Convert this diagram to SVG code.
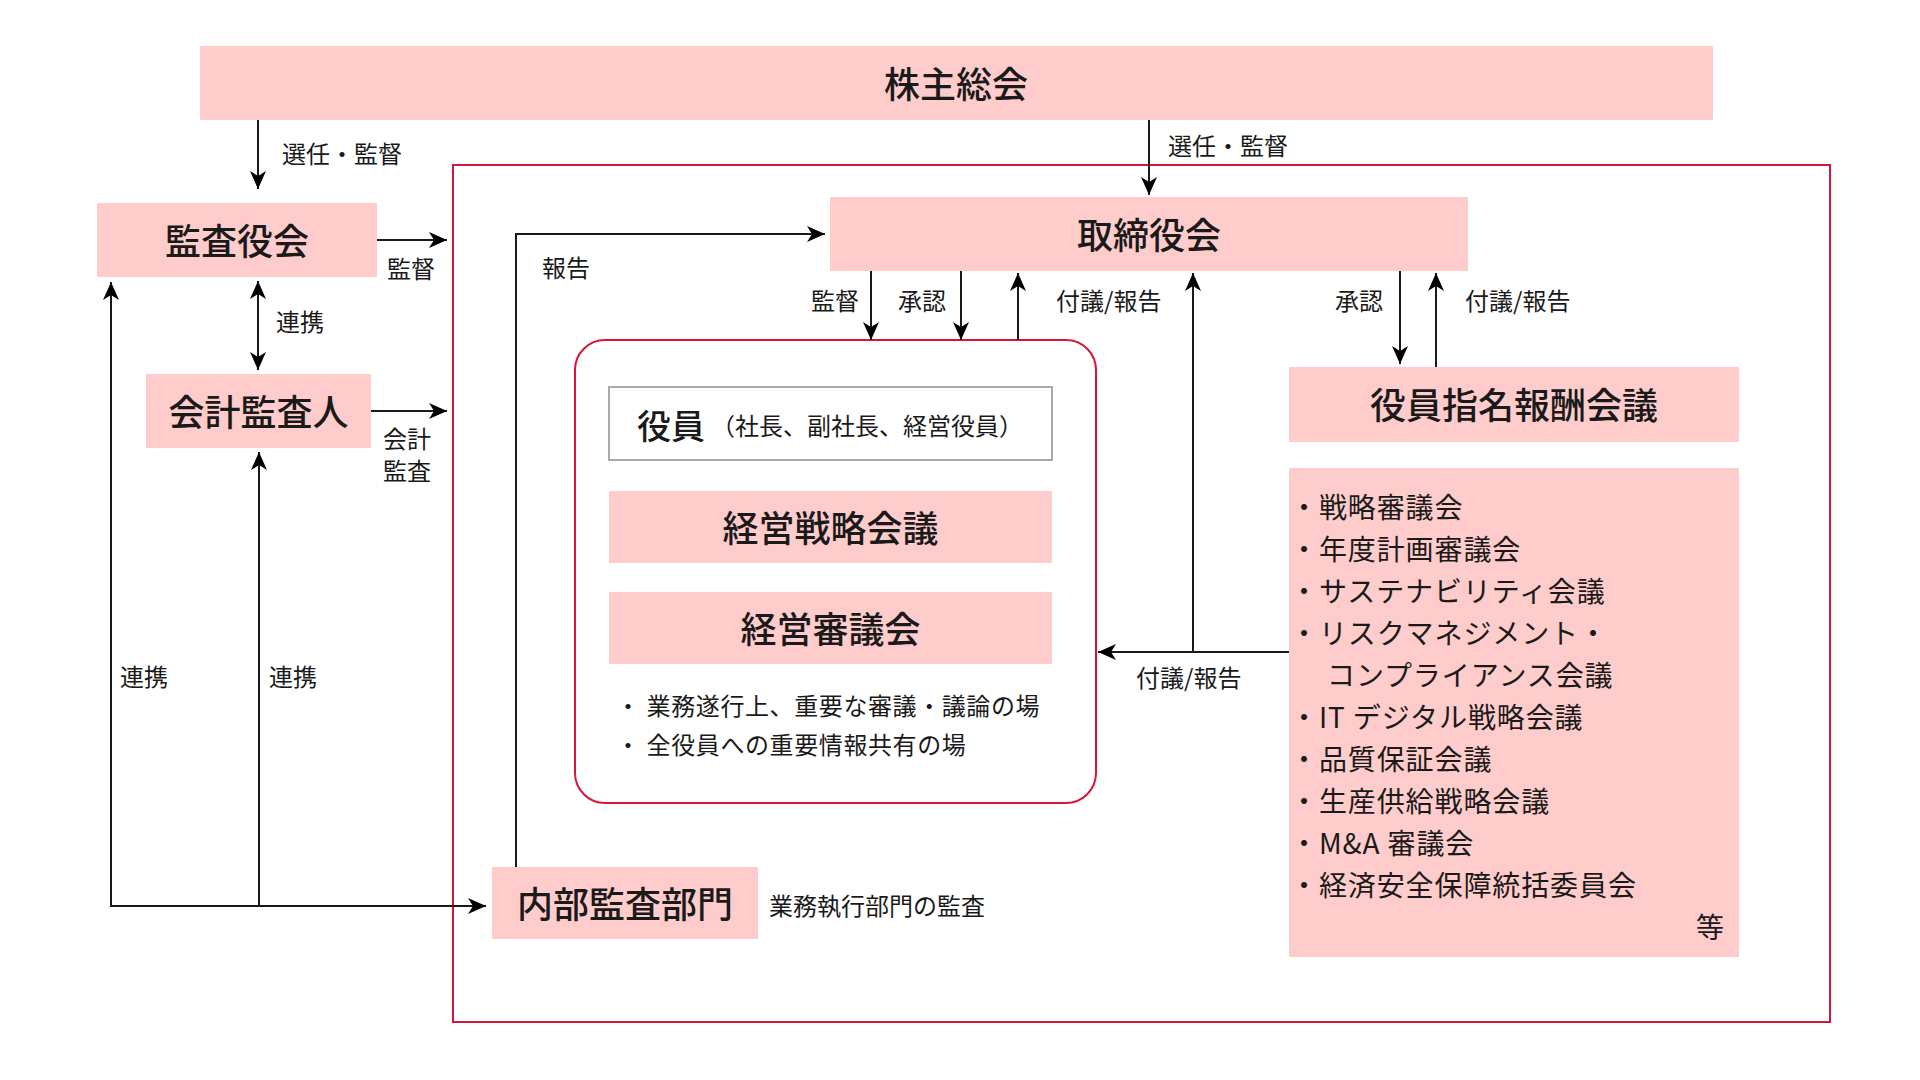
<svg xmlns="http://www.w3.org/2000/svg" width="1920" height="1080" viewBox="0 0 1920 1080">
<defs>
<style>
text{font-family:"Noto Sans CJK JP","Noto Sans",sans-serif;fill:#1a1a1a;dominant-baseline:central}
.title{font-size:36px;font-weight:500;text-anchor:middle}
.lbl{font-size:24px}
.note{font-size:24px;letter-spacing:0.6px}
.item{font-size:28px;letter-spacing:0.9px}
.pink{fill:#ffcccc}
.con{fill:none;stroke:#1a1a1a;stroke-width:2}
.frame{fill:none;stroke:#d7153a;stroke-width:2}
</style>
<marker id="arr" viewBox="0 0 18 16" refX="18" refY="8" markerWidth="18" markerHeight="16" markerUnits="userSpaceOnUse" orient="auto-start-reverse">
<path d="M0,0 L18,8 L0,16 L5,8 Z" fill="#000"/>
</marker>
</defs>
<rect width="1920" height="1080" fill="#fff"/>

<rect class="frame" x="453" y="165" width="1377" height="857"/>

<g id="shareholders">
<rect class="pink" x="200" y="46" width="1513" height="74"/>
<text class="title" x="956" y="82">株主総会</text>
</g>
<g id="audit-board">
<rect class="pink" x="97" y="203" width="280" height="74"/>
<text class="title" x="237" y="239">監査役会</text>
</g>
<g id="accounting-auditor">
<rect class="pink" x="146" y="374" width="225" height="74"/>
<text class="title" x="258.500" y="410">会計監査人</text>
</g>
<g id="board">
<rect class="pink" x="830" y="197" width="638" height="74"/>
<text class="title" x="1149" y="233">取締役会</text>
</g>
<g id="nomination">
<rect class="pink" x="1289" y="367" width="450" height="75"/>
<text class="title" x="1514" y="403">役員指名報酬会議</text>
</g>
<g id="committees">
<rect class="pink" x="1289" y="468" width="450" height="489"/>
<text class="item" x="1290" y="506">・戦略審議会</text>
<text class="item" x="1290" y="548">・年度計画審議会</text>
<text class="item" x="1290" y="590">・サステナビリティ会議</text>
<text class="item" x="1290" y="632">・リスクマネジメント・</text>
<text class="item" x="1327" y="674">コンプライアンス会議</text>
<text class="item" x="1290" y="716">・IT デジタル戦略会議</text>
<text class="item" x="1290" y="758">・品質保証会議</text>
<text class="item" x="1290" y="800">・生産供給戦略会議</text>
<text class="item" x="1290" y="842">・M&amp;A 審議会</text>
<text class="item" x="1290" y="884">・経済安全保障統括委員会</text>
<text class="item" x="1725" y="926" text-anchor="end">等</text>
</g>
<g id="executive-group">
<rect class="frame" x="575" y="340" width="521" height="463" rx="30" ry="30"/>
<g id="officers">
<rect x="609" y="387" width="443" height="73" fill="#fff" stroke="#aaa" stroke-width="2"/>
<text x="637" y="424" font-size="34" font-weight="500">役員<tspan font-size="24" font-weight="400" dx="6">（社長、副社長、経営役員）</tspan></text>
</g>
<g id="strategy-meeting">
<rect class="pink" x="609" y="491" width="443" height="72"/>
<text class="title" x="830.500" y="526">経営戦略会議</text>
</g>
<g id="management-council">
<rect class="pink" x="609" y="592" width="443" height="72"/>
<text class="title" x="830.500" y="627">経営審議会</text>
<text class="note" x="616" y="704">・ 業務遂行上、重要な審議・議論の場</text>
<text class="note" x="616" y="743">・ 全役員への重要情報共有の場</text>
</g>
</g>
<g id="internal-audit">
<rect class="pink" x="492" y="867" width="266" height="72"/>
<text class="title" x="625" y="902">内部監査部門</text>
<text class="lbl" x="769" y="904">業務執行部門の監査</text>
</g>

<g id="connectors">
<path class="con" d="M258,120 V189" marker-end="url(#arr)"/>
<text class="lbl" x="282" y="152">選任・監督</text>
<path class="con" d="M1149,120 V195" marker-end="url(#arr)"/>
<text class="lbl" x="1168" y="144">選任・監督</text>
<path class="con" d="M377,240 H447" marker-end="url(#arr)"/>
<text class="lbl" x="387" y="267">監督</text>
<path class="con" d="M258,281 V370" marker-start="url(#arr)" marker-end="url(#arr)"/>
<text class="lbl" x="276" y="320">連携</text>
<path class="con" d="M371,411 H447" marker-end="url(#arr)"/>
<text class="lbl" x="383" y="437">会計</text>
<text class="lbl" x="383" y="469">監査</text>
<path class="con" d="M516,867 V234 H825" stroke="#333" marker-end="url(#arr)"/>
<text class="lbl" x="542" y="266">報告</text>
<path class="con" d="M871,271 V340" marker-end="url(#arr)"/>
<text class="lbl" x="811" y="299">監督</text>
<path class="con" d="M961,271 V340" marker-end="url(#arr)"/>
<text class="lbl" x="898" y="299">承認</text>
<path class="con" d="M1018,340 V273" marker-end="url(#arr)"/>
<text class="lbl" x="1056" y="299">付議/報告</text>
<path class="con" d="M1289,652 H1098" marker-end="url(#arr)"/>
<path class="con" d="M1193,652 V273" marker-end="url(#arr)"/>
<text class="lbl" x="1136" y="676">付議/報告</text>
<path class="con" d="M1400,271 V364" marker-end="url(#arr)"/>
<text class="lbl" x="1335" y="299">承認</text>
<path class="con" d="M1436,367 V273" marker-end="url(#arr)"/>
<text class="lbl" x="1465" y="299">付議/報告</text>
<path class="con" d="M111,282 V906 H486" stroke="#333" marker-start="url(#arr)" marker-end="url(#arr)"/>
<path class="con" d="M259,906 V452" marker-end="url(#arr)"/>
<text class="lbl" x="120" y="675">連携</text>
<text class="lbl" x="269" y="675">連携</text>
</g>
</svg>
